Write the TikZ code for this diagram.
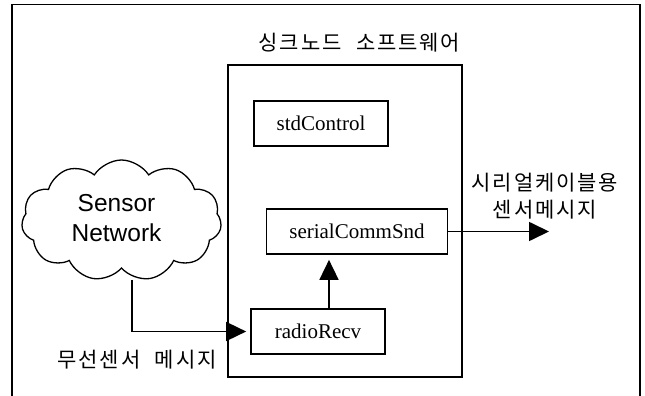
\documentclass[tikz,border=0pt]{standalone}
\usepackage{fontspec}
\setmainfont{Liberation Serif}
\newfontfamily\krfont[WordSpace=2.2,LetterSpace=9]{Noto Sans CJK KR}
\newfontfamily\cloudfont{Liberation Sans}
\usetikzlibrary{arrows.meta,shapes.symbols,calc}
\tikzset{
  frameline/.style={line width=1.5pt},
  module/.style={draw, line width=1.7pt, inner sep=0pt, minimum height=45pt,
    font=\fontsize{21}{21}\selectfont},
  krlabel/.style={inner sep=0pt, align=center, font=\krfont\fontsize{21}{27}\selectfont},
  arr/.style={line width=1.7pt, -{Triangle[length=20pt,width=19pt]}},
}
\begin{document}
\begin{tikzpicture}[x=1pt,y=-1pt]
\useasboundingbox (0,0) rectangle (645,396);
% open outer frame
\draw[frameline] (12,396) -- (12,4.5) -- (640,4.5) -- (640,396);

% sink node software block
\node[draw, line width=1.7pt, minimum width=234pt, minimum height=312pt, inner sep=0pt] (sink) at (345,221) {};
\node[krlabel] (title) at (359.5,43) {싱크노드 소프트웨어};

\node[module, minimum width=134pt] (std) at (321,123.5) {stdControl};
\node[module, minimum width=181pt] (scs) at (357,231.5) {serialCommSnd};
\node[module, minimum width=134pt] (rr) at (318,331.5) {radioRecv};

% sensor network cloud
\node[cloud, draw, line width=1.3pt, cloud puffs=11, cloud puff arc=115, aspect=1.65,
      minimum width=200pt, minimum height=121pt, inner sep=0pt] (net) at (121.5,220.5) {};
\node[inner sep=0pt, align=center, font=\cloudfont\fontsize{24.5}{30}\selectfont] (nettext) at (116.5,218) {Sensor\\Network};
\coordinate (netout) at (132,280);

% connectors
\draw[arr, shorten >=4pt] (netout) |- (rr.west);
\draw[arr, shorten >=5pt] ([xshift=11pt]rr.north) -- ([xshift=11pt]rr.north |- scs.south);
\coordinate (serialout) at (549,231.5);
\draw[arr] (scs.east) -- (serialout);

% labels
\node[krlabel] (wireless) at (137,360) {무선센서 메시지};
\node[krlabel] (cable) at (545,196.5) {시리얼케이블용\\센서메시지};
\end{tikzpicture}
\end{document}
